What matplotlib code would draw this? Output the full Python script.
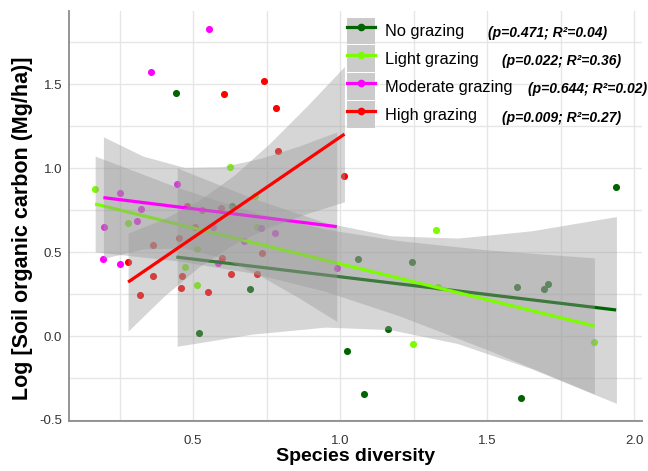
import matplotlib
matplotlib.use("Agg")
import matplotlib.pyplot as plt
from matplotlib.lines import Line2D
from matplotlib.patches import Patch

# fonts: Arial-like family first, DejaVu as fallback for odd glyphs
plt.rcParams["font.family"] = ["Liberation Sans", "DejaVu Sans"]
plt.rcParams["axes.unicode_minus"] = False

# grazing groups, colours and regression stats
groups = ["No grazing", "Light grazing", "Moderate grazing", "High grazing"]
colors = ["#006400", "#7CFC00", "#FF00FF", "#FF0000"]
stats = ["(p=0.471; R²=0.04)", "(p=0.022; R²=0.36)",
         "(p=0.644; R²=0.02)", "(p=0.009; R²=0.27)"]

# scatter points (species diversity, log SOC)
no_x = [0.443, 0.633, 0.693, 0.521, 1.025, 1.061, 1.246, 1.164, 1.082,
        1.617, 1.601, 1.692, 1.706, 1.939]
no_y = [1.445, 0.774, 0.280, 0.020, -0.089, 0.461, 0.438, 0.040, -0.347,
        -0.367, 0.290, 0.282, 0.308, 0.887]

light_x = [0.167, 0.278, 0.474, 0.513, 0.515, 0.626, 0.709, 0.719, 1.249,
           1.328, 1.334, 1.865]
light_y = [0.877, 0.673, 0.413, 0.302, 0.517, 1.006, 0.832, 0.649, -0.048,
           0.633, 0.294, -0.036]

mod_x = [0.553, 0.356, 0.253, 0.447, 0.324, 0.308, 0.196, 0.569, 0.732,
         0.779, 0.673, 0.195, 0.253, 0.585, 0.989]
mod_y = [1.826, 1.573, 0.852, 0.905, 0.756, 0.686, 0.649, 0.647, 0.641,
         0.611, 0.568, 0.460, 0.430, 0.436, 0.407]

high_x = [0.606, 0.740, 0.782, 0.788, 1.015, 0.480, 0.532, 0.596, 0.508,
          0.452, 0.365, 0.279, 0.365, 0.320, 0.461, 0.460, 0.551, 0.597,
          0.629, 0.718, 0.734]
high_y = [1.439, 1.516, 1.359, 1.103, 0.954, 0.776, 0.748, 0.764, 0.648,
          0.581, 0.542, 0.442, 0.357, 0.244, 0.357, 0.284, 0.260, 0.467,
          0.371, 0.369, 0.497]

# fitted lines, value at the smallest and largest x of each group
no_fit = [0.470, 0.155]
light_fit = [0.786, 0.060]
mod_fit = [0.824, 0.651]
high_fit = [0.321, 1.202]

# 95% confidence bands
no_band_x = [0.446, 0.70, 0.95, 1.17, 1.40, 1.65, 1.94]
no_band_lo = [-0.061, 0.011, 0.053, 0.038, -0.045, -0.194, -0.401]
no_band_hi = [1.001, 0.822, 0.675, 0.597, 0.583, 0.626, 0.711]

light_band_x = [0.167, 0.45, 0.70, 0.95, 1.20, 1.50, 1.865]
light_band_lo = [0.501, 0.447, 0.375, 0.266, 0.121, -0.081, -0.345]
light_band_hi = [1.071, 0.883, 0.741, 0.636, 0.568, 0.513, 0.465]

mod_band_x = [0.195, 0.33, 0.47, 0.60, 0.73, 0.86, 0.989]
mod_band_lo = [0.462, 0.518, 0.524, 0.464, 0.357, 0.227, 0.087]
mod_band_hi = [1.186, 1.071, 1.004, 1.008, 1.058, 1.131, 1.215]

high_band_x = [0.279, 0.40, 0.52, 0.64, 0.76, 0.89, 1.015]
high_band_lo = [0.029, 0.235, 0.412, 0.549, 0.648, 0.731, 0.799]
high_band_hi = [0.613, 0.697, 0.807, 0.958, 1.146, 1.374, 1.605]

points = [(no_x, no_y), (light_x, light_y), (mod_x, mod_y), (high_x, high_y)]
fits = [no_fit, light_fit, mod_fit, high_fit]
bands = [(no_band_x, no_band_lo, no_band_hi),
         (light_band_x, light_band_lo, light_band_hi),
         (mod_band_x, mod_band_lo, mod_band_hi),
         (high_band_x, high_band_lo, high_band_hi)]

fig = plt.figure(figsize=(6.48, 4.71), dpi=100)
ax = fig.add_axes([69 / 648, 50 / 471, 573 / 648, 410 / 471])

# points go under every ribbon
for (xs, ys), col in zip(points, colors):
    ax.scatter(xs, ys, s=26, color=col, linewidths=0, zorder=2)

# ribbon then line for each group, later groups cover earlier lines
for i, ((xs, ys), fit, band, col) in enumerate(zip(points, fits, bands, colors)):
    bx, lo, hi = band
    ax.fill_between(bx, lo, hi, color="#999999", alpha=0.4, lw=0,
                    zorder=3 + 2 * i)
    ax.plot([min(xs), max(xs)], fit, color=col, lw=2.3,
            solid_capstyle="butt", zorder=4 + 2 * i)

# axes, grid and labels
ax.set_xlim(0.078, 2.027)
ax.set_ylim(-0.506, 1.935)
ax.set_xticks([0.5, 1.0, 1.5, 2.0])
ax.set_yticks([-0.5, 0.0, 0.5, 1.0, 1.5])
ax.set_xticks([0.25, 0.75, 1.25, 1.75], minor=True)
ax.set_yticks([-0.25, 0.25, 0.75, 1.25, 1.75], minor=True)
ax.grid(which="both", color="#E6E6E6", lw=1.0, zorder=0)
ax.set_axisbelow(True)
ax.tick_params(which="both", length=0, labelsize=9.5, labelcolor="#333333")
ax.tick_params(axis="x", pad=10)
ax.tick_params(axis="y", pad=5)
for side in ["top", "right"]:
    ax.spines[side].set_visible(False)
for side in ["left", "bottom"]:
    ax.spines[side].set_color("#8C8C8C")
    ax.spines[side].set_linewidth(1.3)

ax.set_xlabel("Species diversity", fontsize=14, fontweight="bold")
ax.xaxis.set_label_coords(0.5, -0.066)
ax.set_ylabel("Log [Soil organic carbon (Mg/ha)]", fontsize=15.5,
              fontweight="bold")
ax.yaxis.set_label_coords(-0.062, 0.47)

# legend with grey key boxes
handles = []
for col in colors:
    key = Patch(facecolor="#CBCBCB", edgecolor="none")
    line = Line2D([], [], color=col, lw=2.3, marker="o", markersize=4.5)
    handles.append((key, line))
ax.legend(handles, groups, loc="upper left", bbox_to_anchor=(0.485, 0.984),
          frameon=False, fontsize=11.8, handlelength=1.7, handleheight=2.15,
          handletextpad=0.6, labelspacing=0.06, borderpad=0,
          borderaxespad=0)

# p and R2 next to each legend entry
stat_pos = [(0.731, 0.946), (0.756, 0.878), (0.801, 0.810), (0.756, 0.740)]
for txt, (sx, sy) in zip(stats, stat_pos):
    ax.text(sx, sy, txt, transform=ax.transAxes, fontsize=10,
            fontweight="bold", fontstyle="italic", va="center", ha="left")

fig.savefig("out.png", dpi=100)
